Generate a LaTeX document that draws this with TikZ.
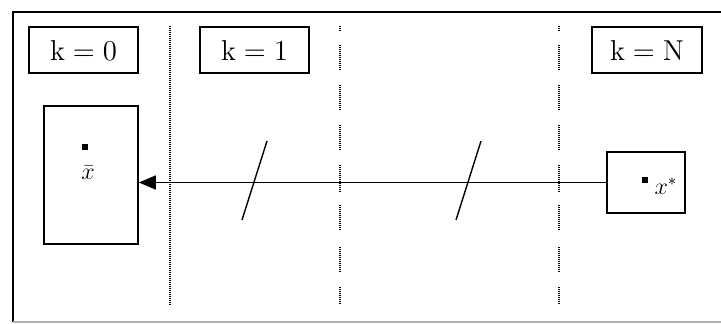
\documentclass[tikz,border=0pt]{standalone}
\usepackage{amsmath}
\usepackage{xcolor}
\usepackage{tikz}
\usetikzlibrary{arrows.meta}

\begin{document}
\begin{tikzpicture}[x=0.5pt,y=-0.5pt,
    stagebox/.style={draw,line width=0.8pt,minimum height=23pt,inner sep=0pt,font=\Large},
    setbox/.style={draw,line width=0.8pt,inner sep=0pt},
    pointmark/.style={fill=black,inner sep=0pt,minimum size=2.8pt},
    sep/.style={line width=0.7pt,dash pattern=on 0.5pt off 0.5pt}]
    \useasboundingbox (0,0) rectangle (721,323);
    % frame
    \draw[line width=0.8pt] (721,12) -- (13,12) -- (13,322);
    \draw[line width=0.8pt,black!30] (13,322) -- (721,322);
    % stage separators
    \draw[sep] (170,26) -- (170,305);
    \foreach \sx in {340,559}
        \foreach \ya/\yb in {26/31,45/71,85/110,125/151,165/192,205/230,247/272,287/305}
            \draw[sep] (\sx,\ya) -- (\sx,\yb);
    % stages
    \node[stagebox,minimum width=54.5pt] (k0) at (83.5,50) {$\mathrm{k}=0$};
    \node[stagebox,minimum width=54.5pt] (k1) at (254.5,50) {$\mathrm{k}=1$};
    \node[stagebox,minimum width=55pt] (kN) at (647,50) {$\mathrm{k}=\mathrm{N}$};
    % sets
    \node[setbox,minimum width=47pt,minimum height=69pt] (xb) at (91,175) {};
    \node[setbox,minimum width=39pt,minimum height=30.5pt] (xs) at (646,182.5) {};
    \node[pointmark] (xbdot) at (85,147) {};
    \node[font=\large] (xblbl) at (88,173) {$\bar{x}$};
    \node[pointmark] (xsdot) at (645,180) {};
    \node[font=\large] (xslbl) at (666,186) {$x^*$};
    % backward arrow
    \draw[line width=0.8pt,-{Triangle[length=8.5pt,width=7pt]}] (xs.west) -- (xs.west -| xb.east);
    \draw[line width=0.7pt] (242,220) -- (267,141);
    \draw[line width=0.7pt] (456,220) -- (481,141);
\end{tikzpicture}
\end{document}
